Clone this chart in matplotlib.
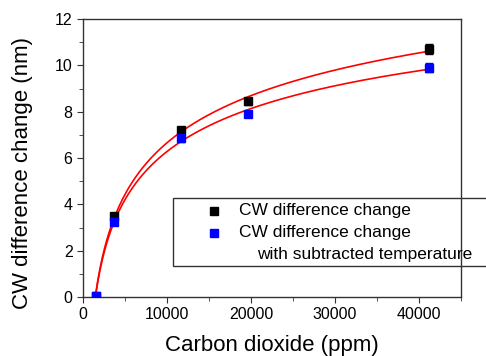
import numpy as np
import matplotlib
matplotlib.use('Agg')
import matplotlib.pyplot as plt
from matplotlib.lines import Line2D
from matplotlib.patches import Rectangle

plt.rcParams['font.family'] = ['Liberation Sans', 'DejaVu Sans']

# CO2 concentration (ppm) and wavelength differences (nm)
co2 = np.array([1500, 3700, 11700, 19700, 41200])
cw_change = np.array([0.05, 3.5, 7.2, 8.45, 10.7])
cw_change_err = np.array([0.05, 0.12, 0.15, 0.15, 0.2])
cw_sub_temp = np.array([0.05, 3.25, 6.85, 7.9, 9.9])
cw_sub_temp_err = np.array([0.05, 0.15, 0.15, 0.15, 0.2])

xticks = [0, 10000, 20000, 30000, 40000]
yticks = [0, 2, 4, 6, 8, 10, 12]

# smooth fit curves (quadratic in ln x)
xfit = np.linspace(co2.min(), co2.max(), 300)
fit1 = np.polyval(np.polyfit(np.log(co2), cw_change, 2), np.log(xfit))
fit2 = np.polyval(np.polyfit(np.log(co2), cw_sub_temp, 2), np.log(xfit))

W, H = 486, 356
fig = plt.figure(figsize=(W / 100, H / 100), dpi=100)
ax = fig.add_axes([83/W, 1 - 297/H, (461-83)/W, (297-19)/H])

ax.plot(xfit, fit1, color='red', lw=1.2, zorder=2)
ax.plot(xfit, fit2, color='red', lw=1.2, zorder=2)
ax.errorbar(co2, cw_change, yerr=cw_change_err, fmt='s', color='black',
            ms=6, capsize=3, elinewidth=1, zorder=3)
ax.errorbar(co2, cw_sub_temp, yerr=cw_sub_temp_err, fmt='s', color='#0000ff',
            ms=6, capsize=3, elinewidth=1, zorder=4)

ax.set_xlim(0, 45000)
ax.set_ylim(0, 12)
ax.set_xticks(xticks)
ax.set_yticks(yticks)
ax.set_xticks(np.arange(5000, 45001, 10000), minor=True)
ax.set_yticks(np.arange(1, 12, 2), minor=True)
ax.tick_params(which='both', direction='out', top=False, right=False,
               labelsize=11.5, color='#333333')
ax.tick_params(which='major', length=4)
ax.tick_params(which='minor', length=3)
for s in ax.spines.values():
    s.set_color('#333333')
    s.set_linewidth(1)

ax.set_xlabel('Carbon dioxide (ppm)', fontsize=16, labelpad=9)
ax.set_ylabel('CW difference change (nm)', fontsize=16)
ax.yaxis.set_label_coords(-0.132, 0.446)

# legend box drawn by hand (it runs past the right spine)
def fx(px):
    return px / W

def fy(py):
    return 1 - py / H

fig.add_artist(Rectangle((fx(173), fy(266)), fx(487) - fx(173), fy(198) - fy(266),
                         transform=fig.transFigure, fill=False,
                         edgecolor='#333333', lw=1, clip_on=False))
leg_colors = ['black', '#0000ff']
leg_rows = [211, 233]
for c, r in zip(leg_colors, leg_rows):
    fig.add_artist(Line2D([fx(214)], [fy(r)], transform=fig.transFigure,
                          ls='none', marker='s', color=c, ms=6))
fig.text(fx(239), fy(211), 'CW difference change', fontsize=12.5, va='center')
fig.text(fx(239), fy(233), 'CW difference change', fontsize=12.5, va='center')
fig.text(fx(257), fy(254), 'with subtracted temperature', fontsize=12.5, va='center')

fig.savefig('out.png', dpi=100)
